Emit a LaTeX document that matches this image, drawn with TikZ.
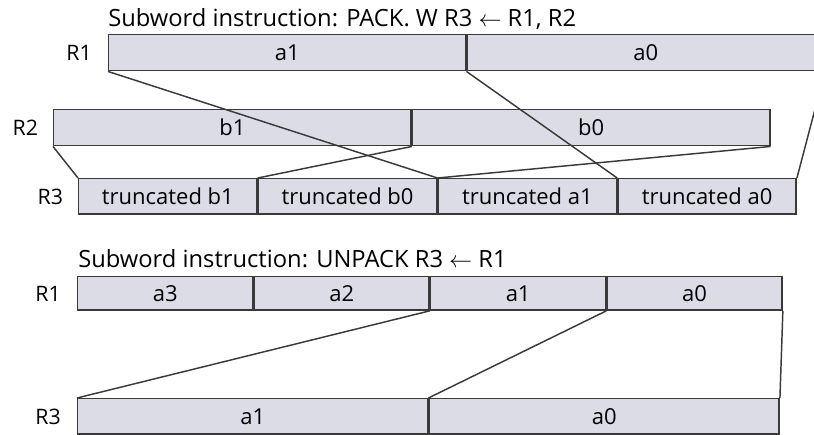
\documentclass[tikz,border=0pt]{standalone}
\usepackage{fontspec}
\setmainfont{Open Sans}
\usepackage{xcolor}
\usepackage{tikz}
\usetikzlibrary{positioning}
\definecolor{regfill}{HTML}{DCDCE6}
\definecolor{regline}{HTML}{3A3A3A}

\begin{document}
\begin{tikzpicture}[x=0.75pt,y=-0.75pt,font=\fontsize{16.5}{18}\selectfont,
        field/.style={draw=regline,fill=regfill,line width=1.1pt,inner sep=0pt,anchor=north west},
        title/.style={anchor=base west,inner sep=0pt,font=\fontsize{17.8}{19}\selectfont},
        reg/.style={inner sep=0pt,font=\fontsize{16}{18}\selectfont},
        wire/.style={draw=regline,line width=1.1pt}]
      \useasboundingbox (0,0) rectangle (814,435);
      % PACK
      \node[title] (packt) at (108,27) {Subword instruction: PACK. W R3 $\leftarrow$ R1, R2};
      \node[field,minimum width=267.75pt,minimum height=27pt] (pa1) at (108,34) {a1};
      \node[field,minimum width=267.75pt,minimum height=27pt] (pa0) at (pa1.north east) {a0};
      \node[field,minimum width=268pt,minimum height=27pt] (pb1) at (53,109) {b1};
      \node[field,minimum width=268pt,minimum height=27pt] (pb0) at (pb1.north east) {b0};
      \node[field,minimum width=133.7pt,minimum height=26.5pt] (tb1) at (78,178) {truncated b1};
      \node[field,minimum width=133.7pt,minimum height=26.5pt] (tb0) at (tb1.north east) {truncated b0};
      \node[field,minimum width=133.7pt,minimum height=26.5pt] (ta1) at (tb0.north east) {truncated a1};
      \node[field,minimum width=133.7pt,minimum height=26.5pt] (ta0) at (ta1.north east) {truncated a0};
      \node[reg,left=12pt of pa1] {R1};
      \node[reg,left=11pt of pb1] {R2};
      \node[reg,left=11pt of tb1] {R3};
      \draw[wire] (pa1.south west) -- (ta1.north west);
      \draw[wire] (pa1.south east) -- (ta0.north west);
      \draw[wire] (pa0.south east) -- (ta0.north east);
      \draw[wire] (pb1.south west) -- (tb1.north west);
      \draw[wire] (pb1.south east) -- (tb0.north west);
      \draw[wire] (pb0.south east) -- (ta1.north west);
      % UNPACK
      \node[title] (unpackt) at (78,267) {Subword instruction: UNPACK R3 $\leftarrow$ R1};
      \node[field,minimum width=131.25pt,minimum height=25pt] (ua3) at (77,276) {a3};
      \foreach \n/\p/\t in {ua2/ua3/a2,ua1/ua2/a1,ua0/ua1/a0}
        \node[field,minimum width=131.25pt,minimum height=25pt] (\n) at (\p.north east) {\t};
      \node[field,minimum width=262.5pt,minimum height=26.5pt] (va1) at (77,398) {a1};
      \node[field,minimum width=262.5pt,minimum height=26.5pt] (va0) at (va1.north east) {a0};
      \node[reg,left=12pt of ua3] {R1};
      \node[reg,left=12pt of va1] {R3};
      \draw[wire] (ua2.south east) -- (va1.north west);
      \draw[wire] (ua1.south east) -- (va0.north west);
      \draw[wire] (ua0.south east) -- (va0.north east);
    \end{tikzpicture}
\end{document}
